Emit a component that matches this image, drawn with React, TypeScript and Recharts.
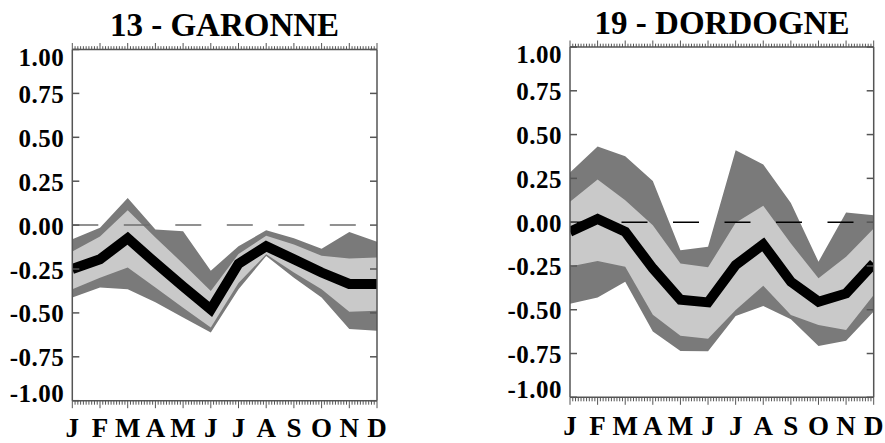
import React from "react";
import { ComposedChart, Area, Line, XAxis, YAxis } from "recharts";

// month initials along the x axis
const months = ["J", "F", "M", "A", "M", "J", "J", "A", "S", "O", "N", "D"];
const yTicks = [-1, -0.75, -0.5, -0.25, 0, 0.25, 0.5, 0.75, 1];

// 13 - GARONNE
const garonneMean = [-0.25, -0.195, -0.075, -0.215, -0.35, -0.48, -0.22, -0.12, -0.195, -0.27, -0.335, -0.335];
const garonneInnerHi = [-0.15, -0.065, 0.085, -0.07, -0.22, -0.375, -0.165, -0.06, -0.11, -0.175, -0.19, -0.185];
const garonneInnerLo = [-0.365, -0.3, -0.242, -0.355, -0.47, -0.583, -0.33, -0.166, -0.27, -0.365, -0.494, -0.488];
const garonneOuterHi = [-0.08, -0.015, 0.155, -0.025, -0.035, -0.26, -0.12, -0.03, -0.075, -0.135, -0.04, -0.095];
const garonneOuterLo = [-0.413, -0.356, -0.365, -0.44, -0.526, -0.611, -0.365, -0.176, -0.3, -0.413, -0.592, -0.602];

// 19 - DORDOGNE
const dordogneMean = [-0.055, 0.018, -0.055, -0.264, -0.443, -0.458, -0.245, -0.127, -0.34, -0.454, -0.407, -0.236];
const dordogneInnerHi = [0.116, 0.243, 0.125, -0.017, -0.236, -0.258, -0.004, 0.093, -0.122, -0.321, -0.198, -0.036];
const dordogneInnerLo = [-0.253, -0.222, -0.255, -0.528, -0.648, -0.665, -0.502, -0.363, -0.53, -0.587, -0.616, -0.416];
const dordogneOuterHi = [0.284, 0.432, 0.376, 0.235, -0.16, -0.14, 0.41, 0.329, 0.11, -0.226, 0.055, 0.04];
const dordogneOuterLo = [-0.466, -0.43, -0.34, -0.624, -0.735, -0.737, -0.536, -0.479, -0.555, -0.707, -0.677, -0.51];

const majorTicks = months.map((_, i) => i);
const minorTicks = Array.from({ length: 111 }, (_, k) => k / 10);

const FONT = "'Liberation Serif', 'Times New Roman', serif";
const DARK = "#7a7a7a";
const LIGHT = "#c9c9c9";
const FRAME = "#555";

const isMajor = (v: number) => majorTicks.some((m) => Math.abs(v - m) < 1e-6);

function BottomTick(props: any) {
  const { x, y, payload } = props;
  const major = isMajor(payload.value);
  // keep the month letters inside the 443px page
  const labelY = Math.min(y + 38, 436.5);
  return (
    <g>
      <line x1={x} x2={x} y1={y} y2={y + (major ? 7.5 : 4)} stroke={FRAME} strokeWidth={1} />
      {major && (
        <text x={x} y={labelY} textAnchor="middle" fontFamily={FONT} fontWeight="bold" fontSize={27} fill="#000">
          {months[Math.round(payload.value)]}
        </text>
      )}
    </g>
  );
}

function TopTick(props: any) {
  const { x, y, payload } = props;
  const major = isMajor(payload.value);
  return <line x1={x} x2={x} y1={y} y2={y - (major ? 6.5 : 3.3)} stroke={FRAME} strokeWidth={1} />;
}

function YLabel(props: any) {
  const { x, y, payload } = props;
  // the end labels sit inside the frame, as in the original plot
  let shift = 0;
  if (payload.value === 1) shift = 6.5;
  if (payload.value === -1) shift = -8.5;
  return (
    <text
      x={x}
      y={y + shift + 9.5}
      textAnchor="end"
      fontFamily={FONT}
      fontWeight="bold"
      fontSize={25}
      letterSpacing={0.5}
      fill="#000"
    >
      {payload.value.toFixed(2)}
    </text>
  );
}

const noTick = () => <g />;

type PanelProps = {
  left: number;
  width: number;
  margin: { top: number; right: number; bottom: number; left: number };
  mean: number[];
  innerHi: number[];
  innerLo: number[];
  outerHi: number[];
  outerLo: number[];
  zeroColor: string;
};

function Panel({ left, width, margin, mean, innerHi, innerLo, outerHi, outerLo, zeroColor }: PanelProps) {
  const data = months.map((m, i) => ({
    x: i,
    month: m,
    outer: [outerLo[i], outerHi[i]],
    inner: [innerLo[i], innerHi[i]],
    mean: mean[i],
    zero: 0,
  }));

  return (
    <div style={{ position: "absolute", left, top: 0 }}>
      <ComposedChart width={width} height={443} data={data} margin={margin}>
        <XAxis
          xAxisId="bottom"
          dataKey="x"
          type="number"
          domain={[0, 11]}
          allowDataOverflow
          ticks={minorTicks}
          interval={0}
          height={1}
          tickSize={0}
          tickMargin={0}
          tickLine={false}
          tick={<BottomTick />}
          axisLine={{ stroke: FRAME, strokeWidth: 1.5 }}
        />
        <XAxis
          xAxisId="top"
          orientation="top"
          dataKey="x"
          type="number"
          domain={[0, 11]}
          allowDataOverflow
          ticks={minorTicks}
          interval={0}
          height={1}
          tickSize={0}
          tickMargin={0}
          tickLine={false}
          tick={<TopTick />}
          axisLine={{ stroke: FRAME, strokeWidth: 1.5 }}
        />
        <YAxis
          yAxisId="left"
          type="number"
          domain={[-1, 1]}
          allowDataOverflow
          ticks={yTicks}
          interval={0}
          width={1}
          tickSize={-7}
          tickMargin={15}
          tickLine={{ stroke: FRAME, strokeWidth: 1.5 }}
          tick={<YLabel />}
          axisLine={{ stroke: FRAME, strokeWidth: 1.5 }}
        />
        <YAxis
          yAxisId="right"
          orientation="right"
          type="number"
          domain={[-1, 1]}
          allowDataOverflow
          ticks={yTicks}
          interval={0}
          width={1}
          tickSize={-7}
          tickLine={{ stroke: FRAME, strokeWidth: 1.5 }}
          tick={noTick}
          axisLine={{ stroke: FRAME, strokeWidth: 1.5 }}
        />
        <Area
          xAxisId="bottom"
          yAxisId="left"
          dataKey="outer"
          type="linear"
          fill={DARK}
          fillOpacity={1}
          stroke="none"
          isAnimationActive={false}
        />
        <Area
          xAxisId="bottom"
          yAxisId="left"
          dataKey="inner"
          type="linear"
          fill={LIGHT}
          fillOpacity={1}
          stroke="none"
          isAnimationActive={false}
        />
        <Line
          xAxisId="top"
          yAxisId="right"
          dataKey="zero"
          type="linear"
          stroke={zeroColor}
          strokeWidth={1.5}
          strokeDasharray="26 25.5"
          dot={false}
          activeDot={false}
          isAnimationActive={false}
        />
        <Line
          xAxisId="bottom"
          yAxisId="left"
          dataKey="mean"
          type="linear"
          stroke="#000"
          strokeWidth={10}
          strokeLinejoin="miter"
          strokeLinecap="butt"
          dot={false}
          activeDot={false}
          isAnimationActive={false}
        />
      </ComposedChart>
    </div>
  );
}

export default function App() {
  return (
    <div style={{ position: "absolute", left: 0, top: 0, width: 885, height: 443, background: "#fff", overflow: "hidden" }}>
      <Panel
        left={0}
        width={442}
        margin={{ top: 48.5, right: 64, bottom: 41.3, left: 71.3 }}
        mean={garonneMean}
        innerHi={garonneInnerHi}
        innerLo={garonneInnerLo}
        outerHi={garonneOuterHi}
        outerLo={garonneOuterLo}
        zeroColor="#6e6e6e"
      />
      <Panel
        left={442}
        width={443}
        margin={{ top: 46, right: 10.3, bottom: 44.7, left: 127 }}
        mean={dordogneMean}
        innerHi={dordogneInnerHi}
        innerLo={dordogneInnerLo}
        outerHi={dordogneOuterHi}
        outerLo={dordogneOuterLo}
        zeroColor="#000"
      />
      <svg width={885} height={443} style={{ position: "absolute", left: 0, top: 0, pointerEvents: "none" }}>
        <text x={224.5} y={36} textAnchor="middle" fontFamily={FONT} fontWeight="bold" fontSize={33} fill="#000">
          13 - GARONNE
        </text>
        <text x={722} y={33.5} textAnchor="middle" fontFamily={FONT} fontWeight="bold" fontSize={33} fill="#000">
          19 - DORDOGNE
        </text>
      </svg>
    </div>
  );
}
